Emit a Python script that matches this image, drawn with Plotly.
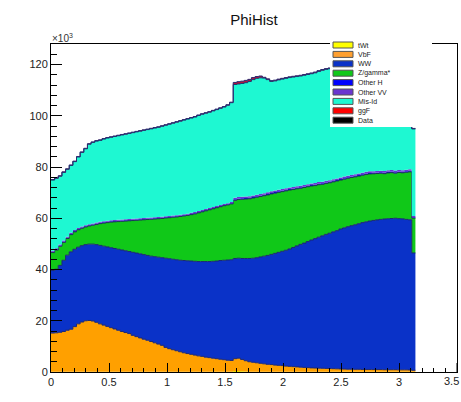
import numpy as np
import plotly.graph_objects as go

# ---------------- data (bin contents, units of 10^3 events) ----------------
n_bins = 100
x_lo, x_hi = 0.0, np.pi

tWt = [0.1, 0.1, 0.1, 0.1, 0.1, 0.1, 0.1, 0.1, 0.1, 0.1,
       0.1, 0.1, 0.1, 0.1, 0.1, 0.1, 0.1, 0.1, 0.1, 0.1,
       0.1, 0.1, 0.1, 0.1, 0.1, 0.1, 0.1, 0.1, 0.1, 0.1,
       0.1, 0.1, 0.1, 0.1, 0.1, 0.1, 0.1, 0.1, 0.1, 0.1,
       0.1, 0.1, 0.1, 0.1, 0.1, 0.1, 0.1, 0.1, 0.1, 0.1,
       0.4, 0.4, 0.3, 0.2, 0.1, 0.1, 0.1, 0.1, 0.1, 0.1,
       0.1, 0.1, 0.1, 0.1, 0.1, 0.1, 0.1, 0.1, 0.1, 0.1,
       0.1, 0.1, 0.1, 0.1, 0.1, 0.1, 0.1, 0.1, 0.1, 0.1,
       0.1, 0.1, 0.1, 0.1, 0.1, 0.1, 0.1, 0.1, 0.1, 0.1,
       0.1, 0.1, 0.1, 0.1, 0.1, 0.1, 0.1, 0.1, 0.1, 0.1]

VbF = [15.1, 15.2, 15.4, 15.7, 16.2, 16.6, 17.6, 18.7, 19.4, 19.9,
       20.0, 19.8, 19.3, 18.7, 18.2, 17.7, 17.2, 16.7, 16.2, 15.7,
       15.3, 14.9, 14.2, 13.7, 13.2, 12.7, 12.3, 11.8, 11.3, 10.8,
       10.3, 9.5, 9.0, 8.6, 8.2, 7.8, 7.4, 7.1, 6.8, 6.5,
       6.2, 6.0, 5.7, 5.5, 5.3, 5.1, 4.9, 4.7, 4.5, 4.4,
       4.8, 5.0, 4.6, 4.2, 3.9, 3.7, 3.5, 3.3, 3.1, 2.9,
       2.8, 2.6, 2.5, 2.4, 2.2, 2.1, 2.0, 1.9, 1.8, 1.7,
       1.6, 1.5, 1.45, 1.4, 1.35, 1.3, 1.25, 1.2, 1.15, 1.1,
       1.05, 1.0, 1.0, 0.95, 0.95, 0.9, 0.9, 0.9, 0.85, 0.85,
       0.85, 0.8, 0.8, 0.8, 0.8, 0.75, 0.75, 0.75, 0.7, 0.55]

WW = [24.4, 24.8, 26.1, 27.8, 29.3, 30.2, 30.2, 29.9, 29.8, 29.7,
      29.8, 30.0, 30.3, 30.6, 30.8, 31.0, 31.2, 31.4, 31.6, 31.8,
      31.9, 32.0, 32.4, 32.6, 32.8, 33.0, 33.1, 33.3, 33.6, 33.9,
      34.2, 34.8, 35.1, 35.3, 35.5, 35.7, 36.0, 36.2, 36.4, 36.6,
      36.8, 37.0, 37.3, 37.5, 37.8, 38.1, 38.5, 38.8, 39.1, 39.3,
      39.1, 39.0, 39.4, 39.9, 40.3, 40.6, 41.0, 41.5, 42.0, 42.5,
      43.0, 43.6, 44.1, 44.6, 45.2, 45.8, 46.5, 47.2, 47.9, 48.5,
      49.2, 49.9, 50.5, 51.1, 51.7, 52.3, 52.8, 53.4, 53.9, 54.6,
      55.1, 55.6, 56.0, 56.4, 56.8, 57.3, 57.6, 57.9, 58.2, 58.4,
      58.6, 58.8, 58.9, 59.0, 59.1, 59.0, 58.9, 58.7, 58.6, 45.8]

Zgamma = [7.0, 7.5, 7.5, 7.0, 6.5, 6.7, 6.8, 6.8, 6.8, 6.9,
          7.1, 7.4, 7.9, 8.5, 9.0, 9.5, 10.0, 10.4, 10.8, 11.2,
          11.6, 12.0, 12.4, 12.8, 13.2, 13.6, 14.0, 14.4, 14.7, 15.0,
          15.3, 15.7, 16.0, 16.4, 16.7, 17.1, 17.4, 17.7, 18.1, 18.5,
          19.0, 19.4, 19.8, 20.2, 20.5, 20.8, 21.0, 21.3, 21.5, 21.8,
          22.7, 22.9, 23.1, 23.2, 23.3, 23.5, 23.6, 23.6, 23.6, 23.6,
          23.6, 23.5, 23.4, 23.3, 23.2, 23.0, 22.6, 22.3, 21.9, 21.7,
          21.4, 21.1, 20.7, 20.5, 20.1, 19.9, 19.7, 19.5, 19.4, 19.1,
          19.0, 18.9, 18.8, 18.7, 18.6, 18.5, 18.5, 18.4, 18.2, 18.1,
          18.0, 17.7, 17.9, 17.9, 17.6, 18.0, 18.0, 18.4, 18.7, 13.6]

OtherH = [0.3, 0.3, 0.3, 0.3, 0.3, 0.3, 0.3, 0.3, 0.3, 0.3,
          0.3, 0.3, 0.3, 0.3, 0.3, 0.3, 0.3, 0.3, 0.3, 0.3,
          0.3, 0.3, 0.3, 0.3, 0.3, 0.3, 0.3, 0.3, 0.3, 0.3,
          0.3, 0.3, 0.3, 0.3, 0.3, 0.3, 0.3, 0.3, 0.3, 0.3,
          0.3, 0.3, 0.3, 0.3, 0.3, 0.3, 0.3, 0.3, 0.3, 0.3,
          0.4, 0.4, 0.4, 0.4, 0.4, 0.4, 0.4, 0.4, 0.4, 0.4,
          0.4, 0.4, 0.4, 0.4, 0.4, 0.4, 0.4, 0.4, 0.4, 0.4,
          0.4, 0.4, 0.4, 0.4, 0.4, 0.4, 0.4, 0.4, 0.4, 0.4,
          0.4, 0.4, 0.4, 0.4, 0.4, 0.4, 0.4, 0.4, 0.4, 0.4,
          0.4, 0.4, 0.4, 0.4, 0.4, 0.4, 0.4, 0.4, 0.4, 0.3]

OtherVV = [0.4, 0.4, 0.4, 0.4, 0.4, 0.4, 0.4, 0.4, 0.4, 0.4,
           0.4, 0.4, 0.4, 0.4, 0.4, 0.4, 0.4, 0.4, 0.4, 0.4,
           0.4, 0.4, 0.4, 0.4, 0.4, 0.4, 0.4, 0.4, 0.4, 0.4,
           0.4, 0.4, 0.4, 0.4, 0.4, 0.4, 0.4, 0.4, 0.4, 0.4,
           0.4, 0.4, 0.4, 0.4, 0.4, 0.4, 0.4, 0.4, 0.4, 0.4,
           0.6, 0.6, 0.6, 0.6, 0.6, 0.6, 0.6, 0.6, 0.6, 0.6,
           0.6, 0.6, 0.6, 0.6, 0.6, 0.6, 0.6, 0.6, 0.6, 0.6,
           0.6, 0.6, 0.6, 0.6, 0.6, 0.6, 0.6, 0.6, 0.6, 0.6,
           0.6, 0.6, 0.6, 0.6, 0.6, 0.6, 0.6, 0.6, 0.6, 0.6,
           0.6, 0.6, 0.6, 0.6, 0.6, 0.6, 0.6, 0.6, 0.6, 0.5]

MisId = [27.6, 27.3, 26.6, 26.6, 26.3, 26.3, 26.7, 27.7, 28.9, 29.8,
         31.2, 31.6, 31.8, 31.8, 32.1, 32.3, 32.4, 32.6, 32.8, 33.0,
         33.2, 33.4, 33.6, 33.8, 34.0, 34.2, 34.4, 34.6, 34.8, 35.0,
         35.3, 35.5, 35.8, 36.0, 36.3, 36.5, 36.7, 36.9, 37.0, 37.1,
         37.3, 37.4, 37.4, 37.4, 37.5, 37.6, 37.7, 37.8, 38.2, 38.8,
         44.2, 44.1, 44.2, 44.4, 44.8, 45.2, 45.4, 45.3, 44.9, 44.0,
         42.9, 42.8, 42.9, 42.9, 42.9, 42.9, 42.9, 42.8, 42.8, 42.8,
         42.8, 42.8, 43.0, 43.2, 43.5, 43.5, 43.5, 43.5, 43.4, 43.4,
         43.3, 43.3, 43.3, 43.3, 43.3, 43.3, 43.2, 43.2, 43.3, 43.4,
         43.5, 43.9, 43.8, 43.9, 44.3, 44.2, 44.3, 44.1, 44.0, 34.0]

ggF = [0.2, 0.2, 0.2, 0.2, 0.2, 0.2, 0.2, 0.2, 0.2, 0.2,
       0.2, 0.2, 0.2, 0.2, 0.2, 0.2, 0.2, 0.2, 0.2, 0.2,
       0.2, 0.2, 0.2, 0.2, 0.2, 0.2, 0.2, 0.2, 0.2, 0.2,
       0.2, 0.2, 0.2, 0.2, 0.2, 0.2, 0.2, 0.2, 0.2, 0.2,
       0.2, 0.2, 0.2, 0.2, 0.2, 0.2, 0.2, 0.2, 0.2, 0.2,
       0.8, 0.9, 0.9, 0.9, 0.8, 0.8, 0.7, 0.7, 0.3, 0.3,
       0.3, 0.3, 0.3, 0.3, 0.3, 0.3, 0.3, 0.3, 0.3, 0.3,
       0.3, 0.3, 0.3, 0.3, 0.3, 0.3, 0.3, 0.3, 0.3, 0.3,
       0.3, 0.3, 0.3, 0.3, 0.3, 0.3, 0.3, 0.3, 0.3, 0.3,
       0.3, 0.3, 0.3, 0.3, 0.3, 0.3, 0.3, 0.3, 0.3, 0.2]

process_names = ["tWt", "VbF", "WW", "Z/gamma*", "Other H", "Other VV", "Mis-Id", "ggF"]
process_values = [tWt, VbF, WW, Zgamma, OtherH, OtherVV, MisId, ggF]
fill_colors = ["#e8e000", "#ffa000", "#0a32c8", "#10c818", "#0000ff", "#6a35d0", "#1ef8d2", "#c0103a"]
line_colors = ["rgba(0,0,0,0)", "#202a70", "#1a2a70", "#1a3a50", "rgba(0,0,0,0)", "rgba(0,0,0,0)", "#1a3a70", "#2a2a70"]

legend_names = ["tWt", "VbF", "WW", "Z/gamma*", "Other H", "Other VV", "Mis-Id", "ggF", "Data"]
legend_fill = ["#ffff00", "#ffa030", "#0a32c8", "#10c818", "#0000ff", "#6a35d0", "#1ef8d2", "#ff0000", "#000000"]

x_tick_vals = [0, 0.5, 1, 1.5, 2, 2.5, 3]
x_tick_text = ["0", "0.5", "1", "1.5", "2", "2.5", "3"]

# ---------------- figure ----------------
W, H = 461, 402
ML, MR, MT, MB = 51, 4, 44, 30
edges = np.linspace(x_lo, x_hi, n_bins + 1)

fig = go.Figure()
cum = np.zeros(n_bins)
for k, (name, vals) in enumerate(zip(process_names, process_values)):
    cum = cum + np.asarray(vals, dtype=float)
    yy = np.append(cum, cum[-1])
    fig.add_trace(go.Scatter(
        x=edges, y=yy, mode="lines", name=name,
        line=dict(shape="hv", color=line_colors[k], width=1),
        fill="tozeroy" if k == 0 else "tonexty",
        fillcolor=fill_colors[k], showlegend=False, hoverinfo="skip"))

axis_font = dict(family="Liberation Sans, Arial, sans-serif", size=11, color="#222")
fig.update_layout(
    width=W, height=H,
    margin=dict(l=ML, r=MR, t=MT, b=MB, autoexpand=False),
    paper_bgcolor="white", plot_bgcolor="white",
    showlegend=False,
    title=dict(text="PhiHist", x=0.5, xref="paper", y=1 - 20 / H, yref="container",
               xanchor="center", yanchor="middle",
               font=dict(family="Liberation Sans, Arial, sans-serif", size=15, color="#111")),
    xaxis=dict(range=[0, 3.5], tickmode="array", tickvals=x_tick_vals, ticktext=x_tick_text,
               ticks="inside", ticklen=9, tickcolor="black", automargin=False,
               showline=True, linecolor="black", linewidth=1, mirror=True, showgrid=False, zeroline=False,
               tickfont=axis_font,
               minor=dict(dtick=0.1, tick0=0, ticks="inside", ticklen=4.5, tickcolor="black", showgrid=False)),
    yaxis=dict(range=[0, 128], tick0=0, dtick=20, ticks="inside", ticklen=11, tickcolor="black",
               showline=True, linecolor="black", linewidth=1, mirror=True, showgrid=False, zeroline=False,
               tickfont=axis_font, automargin=False,
               minor=dict(dtick=4, ticks="inside", ticklen=6, tickcolor="black", showgrid=False)),
)

# major tick at 3.5 (label sits at the right edge of the canvas)
fig.add_annotation(text="3.5", xref="paper", yref="paper", x=1.0, y=0, xanchor="right", yanchor="top",
                   xshift=4, yshift=-1, showarrow=False, font=axis_font)
fig.add_shape(type="line", xref="x", yref="paper", x0=3.5, x1=3.5, y0=0, y1=9 / (H - MT - MB),
              line=dict(color="black", width=1))

# exponent label
fig.add_annotation(text="×10<sup>3</sup>", xref="paper", yref="paper", x=0, y=1,
                   xanchor="left", yanchor="bottom", showarrow=False, xshift=-1, yshift=-2,
                   font=dict(family="Liberation Sans, Arial, sans-serif", size=10, color="#333"))

# ---------------- manual ROOT-style legend ----------------
pw, ph = W - ML - MR, H - MT - MB
def px2x(px):
    return (px - ML) / pw
def py2y(py):
    return (H - MB - py) / ph

fig.add_shape(type="rect", xref="paper", yref="paper", layer="above",
              x0=px2x(330), x1=px2x(432), y0=py2y(127), y1=py2y(39),
              fillcolor="white", line=dict(width=0))
row0, dy = 45.0, 9.4
for k, (name, col) in enumerate(zip(legend_names, legend_fill)):
    cy = row0 + k * dy
    fig.add_shape(type="rect", xref="paper", yref="paper", layer="above",
                  x0=px2x(333), x1=px2x(353), y0=py2y(cy + 3), y1=py2y(cy - 3),
                  fillcolor=col, line=dict(color="#555", width=1))
    fig.add_annotation(text=name, xref="paper", yref="paper", x=px2x(356), y=py2y(cy),
                       xanchor="left", yanchor="middle", showarrow=False,
                       font=dict(family="Liberation Sans, Arial, sans-serif", size=7, color="#222"))

fig.write_html("out.html")
